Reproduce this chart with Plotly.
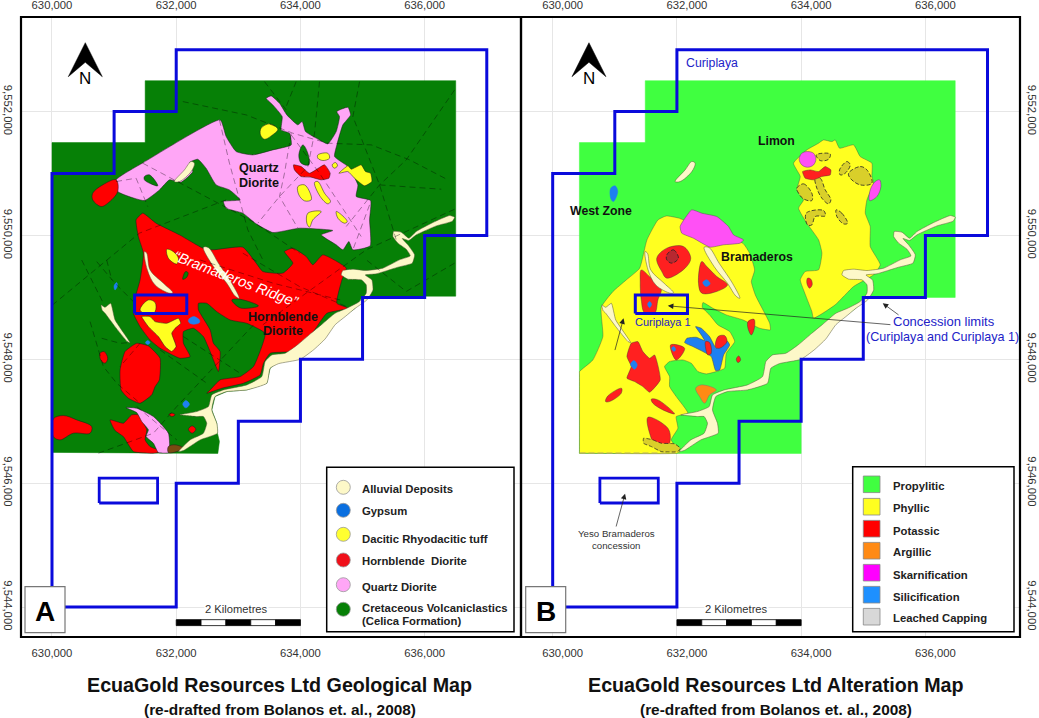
import plotly.graph_objects as go

# map grid origin, all outlines below are metres east / north of this corner
E0 = 630000
N0 = 9544000
W, H = 1039, 718

grid_e = [630000, 632000, 634000, 636000]
grid_n = [9544000, 9546000, 9548000, 9550000, 9552000]

# tenements
concession = [(0,0),(0,7000),(1000,7000),(1000,8000),(2000,8000),(2000,9000),(7000,9000),(7000,6000),(6000,6000),
              (6000,5000),(5000,5000),(5000,4000),(4000,4000),(4000,3000),(3000,3000),(3000,2000),(2000,2000),(2000,0)]
curiplaya1 = [(1330,4740),(2170,4740),(2170,5040),(1330,5040)]
yeso = [(760,1680),(1700,1680),(1700,2080),(760,2080)]

# map extents
extent_a = [(0,7500),(1500,7500),(1500,8500),(6500,8500),(6500,5020),(5000,5020),(4880,4824),(4533,4582),(4372,4367),
            (4103,4098),(3647,3964),(3512,3856),(3459,3614),(3136,3506),(2814,3479),(2626,3399),(2573,3183),(2653,2968),
            (2664,2807),(2696,2675),(2670,2480),(0,2497)]
extent_b = [(430,7500),(1490,7500),(1490,8500),(6480,8500),(6480,5000),(5000,5000),(4880,4824),(4533,4582),(4372,4367),
            (4103,4098),(4000,4000),(4000,2480),(430,2480)]

# alluvium, same on both maps
river = [(6482,6295),(6402,6322),(6133,6209),(5865,6064),(5746,5956),(5623,6053),(5499,6064),(5489,5983),(5569,5876),
         (5703,5779),(5768,5671),(5596,5607),(5328,5472),(5059,5434),(4844,5456),(4683,5434),(4656,5365),(4764,5295),
         (4978,5284),(5059,5203),(5059,5069),(4952,4934),(4747,4824),(4559,4744),(4340,4560),(4170,4420),(3960,4240),
         (3754,4098),(3539,4071),(3432,3964),(3378,3721),(3136,3587),(2761,3506),(2573,3425),(2519,3237),(2331,3157),
         (2062,3103),(2331,3076),(2438,3076),(2492,2968),(2438,2807),(2224,2699),(2036,2511),(2116,2527),(2385,2699),
         (2664,2807),(2653,2968),(2573,3183),(2626,3399),(2814,3479),(3136,3506),(3459,3614),(3512,3856),(3647,3930),
         (3996,4000),(4210,4152),(4398,4330),(4560,4560),(4720,4690),(4882,4824),(5070,4959),(5167,5120),(5150,5282),
         (5043,5362),(5220,5381),(5569,5488),(5800,5553),(5838,5687),(5730,5849),(5639,5951),(5746,5919),(5865,6010),
         (6187,6155),(6445,6231)]
dyke_lens = [(2293,7167),(2240,7032),(2052,6871),(1971,6871),(2132,7059),(2240,7194)]
dyke_1 = [(1488,5740),(1526,5712),(1579,5443),(1794,5228),(1944,5077),(1901,5066),(1660,5201),(1536,5443)]
dyke_2 = [(790,4878),(854,4840),(945,4905),(1015,4636),(1257,4270),(1214,4286),(1015,4528),(854,4744),(811,4787)]
dyke_3 = [(2438,5809),(2519,5803),(2680,5551),(2895,5228),(3013,4986),(2948,5023),(2814,5228),(2599,5497)]

# geology, map A
quartz_main = [(1032,6898),(1472,7178),(2707,7866),(2804,7597),(2965,7355),(3233,7301),(3555,7382),(3851,7463),(3824,7651),
               (3690,7705),(3706,7920),(3555,8108),(3448,8216),(3529,8254),(3663,8135),(3781,7947),(3958,7786),(4028,7839),
               (4082,7678),(4307,7543),(4441,7479),(4576,7678),(4629,7920),(4586,8001),(4764,8071),(4807,7947),(4683,7786),
               (4586,7463),(4549,7274),(4764,7113),(4925,6817),(4898,6629),(5129,6564),(5113,6252),(5123,5833),(4844,5768),
               (4780,5903),(4683,5768),(4576,5849),(4334,6010),(4522,6080),(3985,6118),(3555,6048),(3287,6188),(3072,6360),
               (2804,6441),(2761,6548),(3029,6575),(2857,6736),(2643,6817),(2481,7086),(2347,7231),(2213,7178),(2267,7032),
               (2079,6860),(1891,6898),(1730,6736),(1488,6564),(1058,6710)]
quartz_south = [(1191,3221),(1364,3210),(1633,3076),(1875,2807),(1885,2495),(1713,2495),(1633,2645),(1515,2753),(1552,2861),
                (1445,2995),(1364,3140)]
green_hole_1 = [(4039,7463),(4119,7328),(4135,7140),(4012,7167),(3974,7301)]
green_hole_2 = [(1488,6952),(1569,6979),(1703,6801),(1595,6833),(1488,6898)]
green_isle_1 = [(2895,4959),(3029,4970),(3324,4862),(3056,4824),(2976,4862)]
green_isle_2 = [(2105,5292),(2148,5416),(2191,5400),(2170,5325)]

hornblende_main = [(1354,6252),(1461,6360),(1676,6198),(2052,6010),(2428,5795),(2589,5768),(3072,5811),(3287,5553),(3394,5418),
                   (3717,5392),(3878,5553),(3743,5741),(3878,5795),(4092,5660),(4200,5526),(4361,5687),(4737,5472),(4667,5282),
                   (4586,4905),(4774,4824),(4425,4744),(4264,4528),(4076,4259),(3835,4125),(3512,4098),(3405,3937),(3351,3748),
                   (3083,3614),(2734,3533),(2492,3452),(2546,3506),(2707,3668),(3029,3721),(3244,3883),(3378,4206),(3432,4421),
                   (3136,4582),(2868,4636),(2653,4770),(2492,4905),(2358,4905),(2358,4797),(2546,4475),(2599,4259),(2707,4125),
                   (2680,3802),(2599,3990),(2546,4125),(2438,4367),(2277,4502),(2116,4448),(2116,4259),(2224,4044),(2062,4017),
                   (1740,4179),(1579,4313),(1418,4528),(1311,4744),(1337,4986),(1418,5282),(1472,5712),(1391,5981)]
hornblende_west = [(1032,6898),(1058,6710),(897,6521),(790,6467),(656,6575),(656,6683),(817,6817)]
hornblende_north = [(3888,7140),(4012,7113),(4146,7005),(4388,7140),(4479,7005),(4458,6925),(4334,6898),(4173,6941),(4012,6952),(3904,7059)]
hornblende_blob = [(1364,4259),(1552,4216),(1740,4017),(1729,3668),(1660,3560),(1606,3426),(1418,3291),(1230,3372),(1112,3506),(1096,3829),(1176,4125)]
hornblende_small = [(774,4098),(838,4125),(897,4017),(854,3937),(784,3990)]
hornblende_sw = [(22,3038),(183,3092),(398,3022),(639,2914),(612,2807),(344,2807),(129,2699),(22,2753)]
hornblende_s = [(935,3022),(1149,2968),(1284,3103),(1391,3103),(1525,2861),(1499,2699),(1579,2592),(1767,2511),(1633,2484),(1311,2511),(1149,2753),(1015,2850)]
hornblende_dot_1 = [(1885,3113),(1939,3130),(1982,3103),(1928,3076)]
hornblende_dot_2 = [(2197,2871),(2256,2925),(2315,2871),(2256,2807)]
brown_patch = [(1874,2592),(1982,2619),(2116,2565),(2009,2511),(1874,2495)]

tuff_1 = [(3367,7732),(3502,7802),(3636,7716),(3529,7608),(3421,7554),(3357,7624)]
tuff_2 = [(4280,7301),(4441,7328),(4468,7248),(4361,7210),(4280,7248)]
tuff_3 = [(4511,7140),(4565,7178),(4597,7124),(4543,7086)]
tuff_4 = [(4619,7005),(4764,7124),(4817,7070),(4978,7140),(5048,7032),(5129,7005),(5150,6871),(5032,6801),(4871,6925),(4764,7032)]
tuff_5 = [(3958,6790),(4066,6817),(4157,6683),(4173,6575),(4066,6559),(3974,6656)]
tuff_6 = [(4227,6855),(4280,6871),(4388,6683),(4484,6548),(4441,6511),(4318,6629)]
tuff_7 = [(4576,6387),(4629,6360),(4753,6225),(4710,6198),(4603,6279)]
tuff_8 = [(4119,6360),(4334,6387),(4200,6252),(4146,6134),(4103,6198)]
tuff_9 = [(1848,5777),(1955,5739),(2036,5631),(2009,5540),(1875,5631)]
tuff_10 = [(1418,4797),(1552,4959),(1660,4916),(1660,4771),(1552,4717)]
tuff_11 = [(1445,4690),(1579,4690),(1660,4609),(1848,4582),(2036,4663),(2073,4582),(1982,4502),(1928,4421),(1998,4206),(1928,4125),(1821,4206),(1713,4367),(1552,4528)]

gypsum_1 = [(2197,4636),(2277,4690),(2374,4636),(2374,4593),(2277,4566),(2207,4593)]
gypsum_2 = [(999,5185),(1042,5239),(1053,5185),(1015,5120)]
gypsum_3 = [(1504,4270),(1542,4303),(1579,4270),(1542,4238)]
gypsum_4 = [(2105,3275),(2154,3334),(2213,3275),(2154,3216)]

faults_ab = [
    [(2106,8162),(3126,7947),(3878,7651),(4441,7490),(5140,7463),(5757,7221),(6375,6898)],
    [(3421,8485),(3770,8028)],
    [(3931,8485),(3770,8081)],
    [(4307,8485),(4227,7651),(4119,7113),(3663,6629),(3314,6198)],
    [(4952,8485),(4844,7920),(5032,7436),(5274,6817),(5542,5929)],
    [(6482,8350),(5703,7221),(5274,6817),(4737,6145)],
    [(5274,6817),(6267,6747)],
    [(2696,7866),(2857,7167),(3153,6091),(3394,5607)],
    [(3851,7651),(3743,7005),(3663,6629),(3958,6118)],
    [(3851,7624),(4307,7005),(4978,5983)],
    [(5113,6494),(4844,5768)],
    [(1032,6871),(1354,6925),(1542,6467)],
    [(1461,7167),(2481,6629),(3233,6225),(3985,5714)],
    [(2804,6575),(1407,6037),(11,4880)],
    [(6482,6424),(5059,5768),(4092,5069),(3394,4558)],
    [(6482,5553),(5703,5096),(5059,5607)],
    [(3072,5714),(3985,5176),(4737,4854)],
    [(478,5604),(827,4905)],
    [(720,5578),(1015,5228),(1337,4905)],
    [(881,5604),(962,5282)],
    [(613,4609),(827,3883),(1042,3614),(1418,3291)],
    [(800,4340),(1096,4259),(1246,4270)],
    [(1418,4259),(1096,3883)],
    [(1740,4152),(2492,3614)],
    [(2116,4367),(3029,3775)],
    [(3244,4555),(2009,3237),(1633,2807),(747,2484)],
    [(1364,3237),(2009,2699)],
    [(2385,5604),(3566,5228),(4640,4959)],
]

# alteration, map B
phyllic_main = [(432,2484),(432,2520),(432,3770),(432,3802),(647,3990),(808,4367),(781,4840),(969,5093),(1184,5282),(1399,5470),(1517,5927),(1694,6250),
                (1828,6315),(2043,6277),(2419,6089),(3063,5873),(3171,5712),(3251,5443),(3198,5255),(3262,5040),(3386,4797),
                (3493,4582),(3504,4475),(3332,4502),(3063,4636),(2795,4717),(2580,4824),(2419,4916),(2408,4840),(2526,4717),
                (2661,4555),(2849,4448),(2929,4286),(2795,4098),(2768,3856),(2634,3802),(2473,3764),(2338,3802),(2231,3937),
                (2097,3990),(1882,3964),(1801,3883),(1882,3721),(1882,3560),(1989,3399),(2177,3130),(1989,3076),(2016,2888),
                (1909,2699),(2043,2511),(2000,2484),(470,2484)]
phyllic_limon = [(3877,7167),(4092,7382),(4280,7490),(4360,7543),(4495,7516),(4548,7543),(4618,7409),(4844,7463),(4951,7274),
                 (5139,7167),(5139,6952),(5166,6844),(5059,6575),(5032,6360),(5112,6145),(5112,5822),(5273,5526),(5166,5365),
                 (4844,5176),(4548,4880),(4199,4665),(4172,4773),(4038,5122),(3985,5284),(4065,5418),(4280,5445),(4334,5714),
                 (4280,5929),(4092,6198),(3958,6441),(4038,6575),(3931,6736),(3985,6952)]
skarn_main = [(2051,6145),(2239,6414),(2400,6360),(2642,6306),(2830,6145),(2911,6010),(3072,5929),(3018,5876),(2749,5849),(2535,5811),(2266,5956),(2078,6037)]
skarn_limon = [(3968,7231),(4011,7328),(4103,7355),(4199,7328),(4237,7231),(4199,7140),(4103,7102),(4011,7140)]
skarn_east = [(5193,6871),(5263,6898),(5284,6790),(5220,6629),(5102,6564),(5112,6736)]
potassic_limon = [(4022,7032),(4146,7059),(4280,7032),(4387,7113),(4479,7059),(4468,6978),(4334,6952),(4199,6898),(4065,6925)]
potassic_oval = [(4103,5311),(4156,5295),(4178,5203),(4135,5149),(4092,5230)]
potassic_a = [(1675,5633),(1837,5795),(2105,5822),(2223,5633),(2132,5472),(1837,5311),(1756,5418)]
potassic_b = [(2400,5580),(2481,5499),(2642,5338),(2814,5203),(2642,5096),(2400,5069),(2347,5230)]
potassic_c = [(1426,5443),(1560,5335),(1748,5147),(1694,4959),(1640,4744),(1479,4754),(1426,4959),(1409,5255)]
potassic_d = [(1195,4044),(1264,4259),(1372,4286),(1452,4125),(1560,4017),(1640,4071),(1732,3668),(1560,3469),(1452,3560),(1318,3641),(1195,3695),(1264,3883)]
potassic_tri = [(1898,4233),(2124,4179),(1989,3990)]
potassic_e = [(1109,3533),(1103,3452),(915,3318),(851,3318),(889,3410)]
potassic_f = [(1587,3356),(1694,3345),(1963,3119),(1775,3183),(1613,3291)]
potassic_g = [(1533,3065),(1855,2888),(1893,2699),(1828,2538),(1694,2538),(1560,2807)]
potassic_h = [(2462,4286),(2526,4270),(2553,4098),(2499,4071),(2462,4179)]
potassic_i = [(2661,4367),(2768,4383),(2806,4286),(2688,4179),(2623,4195)]
potassic_j = [(3144,4609),(3241,4647),(3251,4528),(3198,4394),(3144,4502)]
potassic_k = [(2956,4001),(2994,4055),(3026,3990),(2983,3947)]
dark_cap = [(1837,5687),(1944,5768),(2024,5633),(1917,5553),(1837,5607)]
silica_main = [(2301,4528),(2392,4502),(2526,4367),(2634,4179),(2795,4313),(2849,4232),(2752,4071),(2688,3829),(2623,3818),
               (2553,4044),(2419,4125),(2258,4206),(2124,4270),(2161,4340),(2312,4356),(2446,4302),(2392,4394)]
silica_b = [(2416,5241),(2481,5284),(2535,5219),(2470,5176)]
silica_c = [(1528,4889),(1560,4932),(1592,4889),(1560,4835)]
silica_d = [(1254,3920),(1307,3980),(1361,3910),(1318,3840)]
silica_tri = [(1914,4179),(1952,4206),(1979,4152),(1947,4130)]
silica_west = [(934,6763),(1004,6801),(1047,6710),(977,6548),(934,6602)]
argillic = [(2301,3533),(2392,3587),(2634,3506),(2526,3425),(2446,3291),(2365,3399)]
cap_1 = [(4243,7301),(4468,7317),(4441,7231),(4307,7210)]
cap_2 = [(4618,7059),(4736,7194),(4790,7140),(4709,7005),(4629,6978)]
cap_3 = [(4763,7005),(4951,7113),(5059,7059),(5139,6844),(4951,6817),(4790,6925)]
cap_4 = [(3931,6763),(4038,6833),(4172,6683),(4172,6564),(4038,6591),(3958,6683)]
cap_5 = [(4226,6925),(4306,6925),(4387,6737),(4479,6575),(4441,6511),(4334,6602),(4253,6763)]
cap_6 = [(4081,6360),(4360,6403),(4387,6317),(4226,6306),(4172,6171),(4103,6171)]
cap_7 = [(4564,6414),(4655,6360),(4747,6198),(4683,6187),(4575,6306)]
cap_south = [(1463,2726),(1614,2699),(1748,2645),(1963,2635),(2054,2565),(2016,2511),(1748,2511),(1587,2592),(1463,2645)]
phyllic_edge = [(432,2484),(2043,2484)]

north_arrow = [(536,9113),(262,8564),(536,8797),(810,8564)]
scale_edges = [2000,2400,2800,3200,3600,4000]
scale_band = [-300,-204]

legend_a = ['Alluvial Deposits','Gypsum','Dacitic Rhyodacitic tuff','Hornblende  Diorite','Quartz Diorite','Cretaceous Volcaniclastics','(Celica Formation)']
legend_b = ['Propylitic','Phyllic','Potassic','Argillic','Skarnification','Silicification','Leached Capping']

GREEN_A, GREEN_B = '#068006', '#40ff40'
RED, PINK, YELLOW = '#ff0000', '#ffa6f6', '#ffff20'
CREAM, BLUE, LINE = '#fdf8c8', '#1e80f0', '#0a0adc'
MAGENTA, CAP = '#ff50f5', '#d9cf2a'
FONT = 'Liberation Sans'


def px(x):
    return x / W


def py(y):
    return 1 - y / H


def add_poly(fig, pts, fill, ax, line='#1a1a1a', width=0.5, dash='solid', spline=True):
    closed = pts + pts[:1]
    # small lenses read as ovals, long outlines keep their corners
    smooth = 1.0 if len(pts) <= 8 else 0.45
    fig.add_trace(go.Scatter(
        x=[E0 + p[0] for p in closed], y=[N0 + p[1] for p in closed], mode='lines', fill='toself', fillcolor=fill,
        line=dict(color=line, width=width, dash=dash, shape='spline' if spline else 'linear', smoothing=smooth),
        xaxis='x' if ax == 1 else 'x2', yaxis='y' if ax == 1 else 'y2', hoverinfo='skip', showlegend=False))


def add_line(fig, pts, color, width, ax, dash='solid'):
    fig.add_trace(go.Scatter(
        x=[E0 + p[0] for p in pts], y=[N0 + p[1] for p in pts], mode='lines',
        line=dict(color=color, width=width, dash=dash),
        xaxis='x' if ax == 1 else 'x2', yaxis='y' if ax == 1 else 'y2', hoverinfo='skip', showlegend=False))


def add_tenements(fig, ax):
    add_line(fig, concession + concession[:1], LINE, 3, ax)
    add_line(fig, curiplaya1 + curiplaya1[:1], LINE, 3, ax)
    add_line(fig, yeso + yeso[:1], LINE, 2.8, ax)


def add_alluvium(fig, ax):
    for p in (dyke_lens, dyke_1, dyke_2, dyke_3):
        add_poly(fig, p, CREAM, ax, line='#55553a')
    add_poly(fig, river, CREAM, ax, line='#55553a')


def label(text, x, y, size, color='#111', bold=False, angle=0, anchor='center', bg=None, italic=False):
    t = f'<b>{text}</b>' if bold else text
    t = f'<i>{t}</i>' if italic else t
    notes.append(dict(text=t, x=px(x), y=py(y), xref='paper', yref='paper', showarrow=False, xanchor=anchor, yanchor='middle',
                      textangle=angle, bgcolor=bg, borderpad=0,
                      font=dict(family=FONT, size=size, color=color)))


def pointer(tail, tip):
    notes.append(dict(x=E0 + tip[0], y=N0 + tip[1], ax=E0 + tail[0], ay=N0 + tail[1], xref='x2', yref='y2', axref='x2', ayref='y2',
                      text='', showarrow=True, arrowhead=2, arrowsize=1.6, arrowwidth=0.7, arrowcolor='#222'))


fig = go.Figure()
notes = []
boxes = []

# map A
add_poly(fig, extent_a, GREEN_A, 1, line=GREEN_A, width=0.5, spline=False)
add_poly(fig, quartz_main, PINK, 1)
add_poly(fig, green_hole_1, GREEN_A, 1)
add_poly(fig, green_hole_2, GREEN_A, 1)
for p in (hornblende_main, hornblende_west, hornblende_north, hornblende_blob, hornblende_small, hornblende_sw, hornblende_s,
          hornblende_dot_1, hornblende_dot_2):
    add_poly(fig, p, RED, 1)
add_poly(fig, quartz_south, PINK, 1)
add_poly(fig, brown_patch, '#7a4a12', 1)
add_poly(fig, green_isle_1, GREEN_A, 1)
add_poly(fig, green_isle_2, GREEN_A, 1)
for p in (tuff_1, tuff_2, tuff_3, tuff_4, tuff_5, tuff_6, tuff_7, tuff_8, tuff_9, tuff_10, tuff_11):
    add_poly(fig, p, YELLOW, 1)
for p in (gypsum_1, gypsum_2, gypsum_3, gypsum_4):
    add_poly(fig, p, BLUE, 1, line=BLUE)
add_alluvium(fig, 1)
for f in faults_ab:
    add_line(fig, f, 'rgba(0,0,0,0.6)', 0.6, 1, dash='6px,4px')
add_tenements(fig, 1)
add_poly(fig, north_arrow, '#000', 1, line='#000', spline=False)

# map B
add_poly(fig, extent_b, GREEN_B, 2, line=GREEN_B, spline=False)
add_poly(fig, phyllic_main, YELLOW, 2, line='#444', width=0.4)
add_poly(fig, phyllic_limon, YELLOW, 2, line='#444', width=0.4)
add_line(fig, phyllic_edge, '#b8b060', 1.2, 2, dash='6px,3px')
add_poly(fig, skarn_main, MAGENTA, 2, line='#555')
add_poly(fig, skarn_limon, MAGENTA, 2, line='#555')
add_poly(fig, skarn_east, MAGENTA, 2, line='#555')
for p in (cap_1, cap_2, cap_3, cap_4, cap_5, cap_6, cap_7):
    add_poly(fig, p, CAP, 2, line='#222', width=0.8, dash='4px,2px')
add_poly(fig, silica_main, BLUE, 2, line='#444')
for p in (potassic_limon, potassic_oval, potassic_a, potassic_b, potassic_c, potassic_d, potassic_tri, potassic_e, potassic_f,
          potassic_g, potassic_h, potassic_i, potassic_j, potassic_k):
    add_poly(fig, p, '#ff2020', 2, line='#333', width=0.4)
add_poly(fig, dark_cap, '#b82830', 2, line='#222', width=0.8, dash='4px,2px')
add_poly(fig, cap_south, CAP, 2, line='#222', width=0.7, dash='4px,2px')
add_poly(fig, argillic, '#ff8a14', 2, line='#777')
for p in (silica_b, silica_c, silica_d, silica_tri, silica_west):
    add_poly(fig, p, BLUE, 2, line=BLUE)
add_alluvium(fig, 2)
add_tenements(fig, 2)
add_poly(fig, [(p[0] + 48, p[1]) for p in north_arrow], '#000', 2, line='#000', spline=False)

# scale bars
for ref_x, ref_y in (('x', 'y'), ('x2', 'y2')):
    for i in range(len(scale_edges) - 1):
        boxes.append(dict(type='rect', xref=ref_x, yref=ref_y, x0=E0 + scale_edges[i], x1=E0 + scale_edges[i + 1],
                          y0=N0 + scale_band[0], y1=N0 + scale_band[1], line=dict(color='#000', width=0.8),
                          fillcolor='#000' if i % 2 == 0 else '#fff', layer='above'))

# frames
for x0, x1 in ((21, 521), (521, 1020)):
    boxes.append(dict(type='rect', xref='paper', yref='paper', x0=px(x0), x1=px(x1), y0=py(637), y1=py(17),
                      line=dict(color='#000', width=2.2), layer='above'))

# panel letters
for x0, letter in ((25, 'A'), (525.7, 'B')):
    boxes.append(dict(type='rect', xref='paper', yref='paper', x0=px(x0), x1=px(x0 + 40), y0=py(632.7), y1=py(586.7),
                      fillcolor='#fff', line=dict(color='#777', width=1.2), layer='above'))
    label(letter, x0 + 20, 611.5, 28, color='#000', bold=True)

# legend A
boxes.append(dict(type='rect', xref='paper', yref='paper', x0=px(326.7), x1=px(514), y0=py(631.7), y1=py(467.3),
                  fillcolor='#fff', line=dict(color='#000', width=1.5), layer='above'))
circle_rows = [(487.3, CREAM), (510.3, '#0a6fe0'), (534.3, '#ffff30'), (560, '#f0101a'), (584.7, '#ffa6f6'), (609.3, '#068006')]
for y, c in circle_rows:
    boxes.append(dict(type='circle', xref='paper', yref='paper', x0=px(336.3), x1=px(350.3), y0=py(y + 7), y1=py(y - 7),
                      fillcolor=c, line=dict(color='#999', width=0.8), layer='above'))
for txt, y in zip(legend_a, [489, 511.3, 538.7, 560.7, 586.7, 608, 621]):
    label(txt, 361, y, 11.3, color='#222', bold=True, anchor='left')

# legend B
boxes.append(dict(type='rect', xref='paper', yref='paper', x0=px(852.7), x1=px(1014), y0=py(631.7), y1=py(466.7),
                  fillcolor='#fff', line=dict(color='#000', width=1.5), layer='above'))
square_rows = [(484.3, '#40ff40'), (506.7, '#ffff20'), (528.7, '#ff0000'), (550.7, '#ff8a14'), (572.7, '#ff00ff'), (594.7, '#1e90ff'), (616.7, '#d8d8d8')]
for y, c in square_rows:
    boxes.append(dict(type='rect', xref='paper', yref='paper', x0=px(863.3), x1=px(880), y0=py(y + 8.3), y1=py(y - 8.3),
                      fillcolor=c, line=dict(color='#888', width=0.8), layer='above'))
for txt, y in zip(legend_b, [485.7, 508.3, 531, 551.7, 575, 597, 618]):
    label(txt, 892.3, y, 11.3, color='#222', bold=True, anchor='left')

# map labels
label('Quartz', 259, 168, 12.6, bold=True)
label('Diorite', 259, 182.7, 12.6, bold=True)
label('Hornblende', 283.3, 316.7, 12.6, bold=True)
label('Diorite', 283.3, 331, 12.6, bold=True)
label('“Bramaderos Ridge”', 236, 279, 14.6, color='#fff', angle=21, italic=True)
label('N', 85.3, 78, 17, color='#000')
label('N', 589, 78, 17, color='#000')
label('Curiplaya', 711.7, 63, 12.3, color='#2222c8')
label('Limon', 776.7, 141, 12.3, color='#111', bold=True)
label('West Zone', 601, 210.7, 12.3, color='#111', bold=True)
label('Bramaderos', 757.3, 257, 12.3, color='#111', bold=True)
label('Curiplaya 1', 663.3, 322, 11, color='#2222c8')
label('Concession limits', 944, 321.7, 13, color='#2222c8')
label('(Curiplaya and Curiplaya 1)', 942.7, 336.7, 12.6, color='#2222c8')
label('Yeso Bramaderos', 616.3, 533.7, 9.7, color='#333')
label('concession', 616.3, 545, 9.7, color='#333')
label('2 Kilometres', 236, 609.3, 11.2, color='#333', bg='#fff')
label('2 Kilometres', 736.7, 609.3, 11.2, color='#333', bg='#fff')

# titles
label('EcuaGold Resources Ltd Geological Map', 279.7, 684.5, 19.7, color='#111', bold=True)
label('(re-drafted from Bolanos et. al., 2008)', 279.7, 709, 15.4, color='#111', bold=True)
label('EcuaGold Resources Ltd Alteration Map', 775.8, 684.5, 19.7, color='#111', bold=True)
label('(re-drafted from Bolanos et. al., 2008)', 775.7, 709, 15.4, color='#111', bold=True)

pointer((5461, 4558), (1853, 4864))
pointer((5592, 4700), (5313, 4905))
pointer((996, 4125), (1141, 4663))
pointer((1015, 1276), (1165, 1830))

# the top/bottom tick labels sit on their own overlay axes, on map B they are printed a little off the grid
for ref in ('x3', 'x4', 'x5'):
    fig.add_trace(go.Scatter(x=[None], y=[None], xaxis=ref, yaxis='y' if ref == 'x3' else 'y2', showlegend=False, hoverinfo='skip'))

range_a = [E0 - 499, E0 + 7551]
range_b = [E0 - 510, E0 + 7523]
label_shift = 160
range_y = [N0 - 484, N0 + 9528]
tick_font = dict(family=FONT, size=11.3, color='#333')
grid = dict(showgrid=True, gridcolor='#e6e6e6', gridwidth=1, zeroline=False, showline=False)
x_labels = dict(tickmode='array', tickvals=grid_e, tickformat=',d', tickfont=tick_font, ticks='outside', tickcolor='rgba(0,0,0,0)',
                showgrid=False, zeroline=False, showline=False)
y_labels = dict(tickmode='array', tickvals=grid_n, tickformat=',d', tickfont=tick_font, tickangle=90, ticks='outside',
                tickcolor='rgba(0,0,0,0)', ticklen=2)

fig.update_layout(
    width=W, height=H, margin=dict(l=0, r=0, t=0, b=0, autoexpand=False), paper_bgcolor='#fff', plot_bgcolor='#fff',
    showlegend=False, shapes=boxes, annotations=notes, font=dict(family=FONT),
    xaxis=dict(domain=[px(21), px(521)], range=range_a, anchor='y', side='bottom', ticklen=5, **{**x_labels, 'showgrid': True, 'gridcolor': '#e6e6e6'}),
    xaxis3=dict(range=range_a, overlaying='x', anchor='y', side='top', ticklen=2, **x_labels),
    xaxis2=dict(domain=[px(521), px(1020)], range=range_b, anchor='y2', tickvals=grid_e, showticklabels=False, **grid),
    xaxis4=dict(range=[range_b[0] - label_shift, range_b[1] - label_shift], overlaying='x2', anchor='y2', side='bottom', ticklen=5, **x_labels),
    xaxis5=dict(range=[range_b[0] - label_shift, range_b[1] - label_shift], overlaying='x2', anchor='y2', side='top', ticklen=2, **x_labels),
    yaxis=dict(domain=[py(637), py(17)], range=range_y, anchor='x', side='left', **y_labels, **grid),
    yaxis2=dict(domain=[py(637), py(17)], range=range_y, anchor='x2', side='right', **y_labels, **grid),
)

# the page keeps the browser's default 8px body margin otherwise
fig.write_html("out.html", config={'displayModeBar': False}, post_script="document.body.style.margin='0';")
